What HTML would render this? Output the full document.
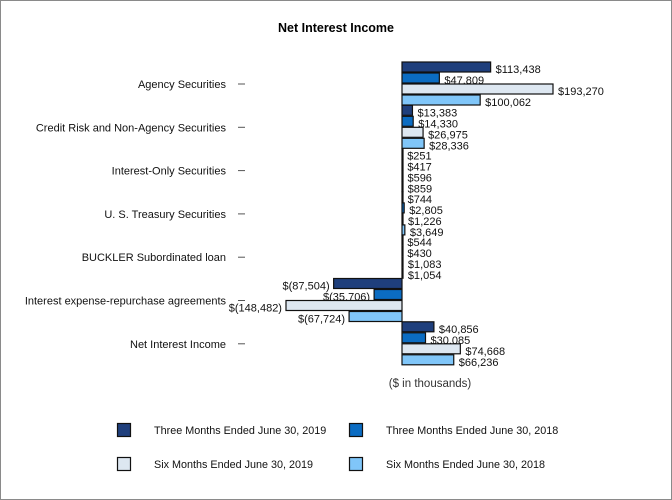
<!DOCTYPE html>
<html><head><meta charset="utf-8"><style>
html,body{margin:0;padding:0;background:#fff}
svg{display:block;font-family:"Liberation Sans",sans-serif}
</style></head><body>
<svg id="c" width="672" height="500">
<rect x="0.5" y="0.5" width="671" height="499" fill="#fff" stroke="#8a8a8a"/>
<text x="336" y="32" text-anchor="middle" font-size="12.5" font-weight="bold">Net Interest Income</text>
<text x="430" y="387" text-anchor="middle" font-size="11.5" fill="#333">($ in thousands)</text>
<g id="bars"></g>
<g id="legend"></g>
</svg>
<script>
const categories=["Agency Securities","Credit Risk and Non-Agency Securities","Interest-Only Securities","U. S. Treasury Securities","BUCKLER Subordinated loan","Interest expense-repurchase agreements","Net Interest Income"];
const seriesNames=["Three Months Ended June 30, 2019","Three Months Ended June 30, 2018","Six Months Ended June 30, 2019","Six Months Ended June 30, 2018"];
const q2019=[113438,13383,251,744,544,-87504,40856];
const q2018=[47809,14330,417,2805,430,-35706,30085];
const h2019=[193270,26975,596,1226,1083,-148482,74668];
const h2018=[100062,28336,859,3649,1054,-67724,66236];
const colors=["#1f3f7c","#0b6cc2","#dde7f1","#80c6f9"];
const series=[q2019,q2018,h2019,h2018];
const NS="http://www.w3.org/2000/svg";
const svg=document.getElementById('c'),g=document.getElementById('bars'),lg=document.getElementById('legend');
const x0=402,scale=151/193270;
const xs=v=>x0+v*scale;
const yCat=i=>84+i*43.3;
function el(t,a,p){const e=document.createElementNS(NS,t);for(const k in a)e.setAttribute(k,a[k]);p.appendChild(e);return e;}
function fmt(v){const s=Math.abs(v).toLocaleString('en-US');return v<0?"$("+s+")":"$"+s;}
categories.forEach((c,i)=>{
  const y=yCat(i);
  const t=el('text',{x:226,y:y+4,'text-anchor':'end','font-size':11,fill:'#111'},svg);
  t.textContent=c;
  
  
  const tk=el('line',{x1:238,x2:245,y1:y,y2:y,stroke:'#555'},svg);
  
  
  series.forEach((s,j)=>{
    const v=s[i],by=y-22+j*11;
    const xa=Math.min(xs(0),xs(v)),w=Math.max(Math.abs(xs(v)-xs(0)),1);
    const r=el('rect',{x:xa,y:by,width:w,height:10,fill:colors[j],stroke:'#111','stroke-width':1.2},g);
    
    
    const lt=el('text',{x:v<0?xs(v)-4:xs(v)+5,y:by+11,'text-anchor':v<0?'end':'start','font-size':11,fill:'#111'},g);
    lt.textContent=fmt(v);
    
    
  });
});
const lpos=[[117,423],[349,423],[117,457],[349,457]];
seriesNames.forEach((n,j)=>{
  const [x,y]=lpos[j];
  const r=el('rect',{x:x+0.5,y:y+0.5,width:13,height:13,fill:colors[j],stroke:'#111','stroke-width':1.2},lg);
  
  
  const t=el('text',{x:x+37,y:y+11,'font-size':10.8,fill:'#111'},lg);
  t.textContent=n;
  
  
});
</script>
</body></html>
